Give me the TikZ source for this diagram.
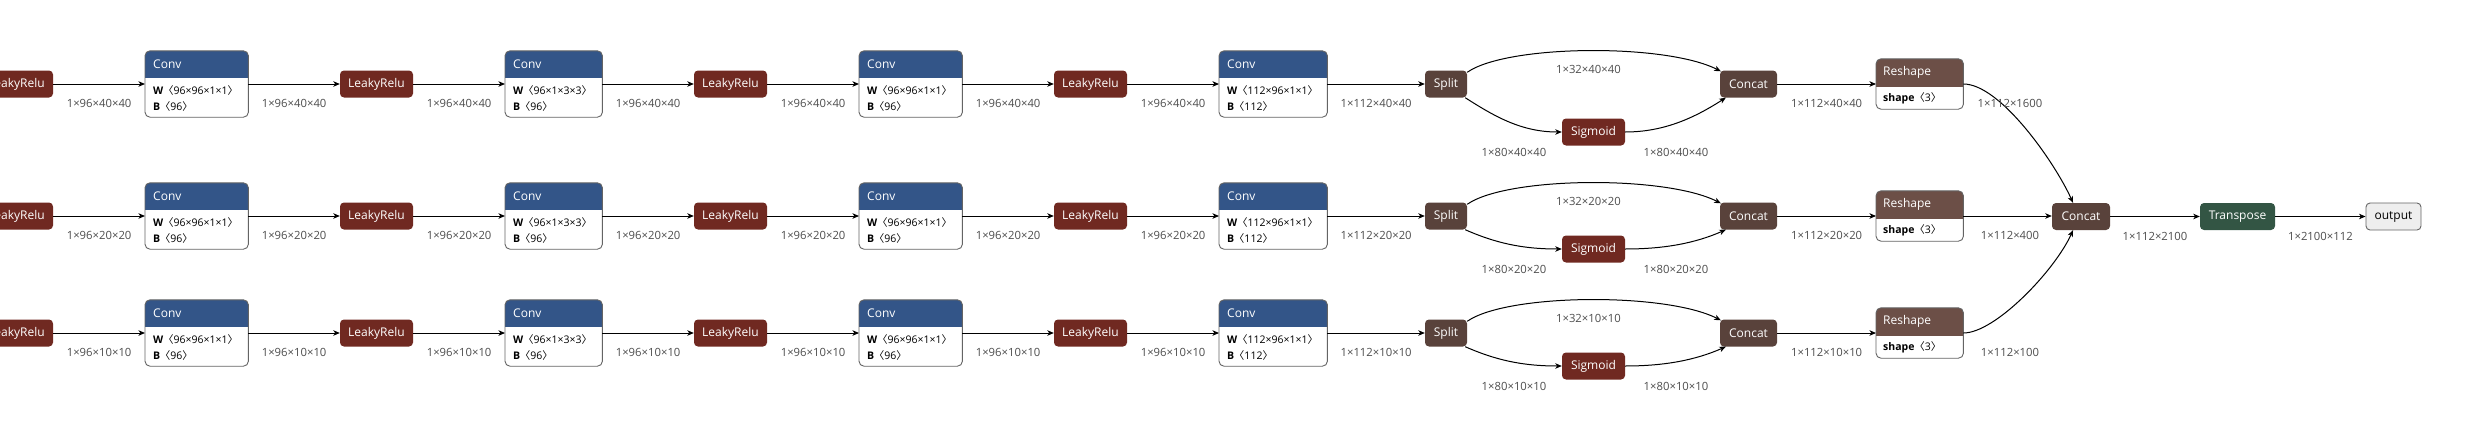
\documentclass[tikz,border=0pt]{standalone}
\usepackage{fontspec}
\setmainfont{Open Sans}
\newfontfamily\cjkf{Noto Sans CJK SC}
\usetikzlibrary{arrows.meta,calc}
\definecolor{convblue}{RGB}{51,85,136}
\definecolor{actred}{RGB}{112,41,33}
\definecolor{tensbrown}{RGB}{89,66,59}
\definecolor{shapebrown}{RGB}{108,79,71}
\definecolor{transgreen}{RGB}{51,85,68}
\definecolor{labgray}{RGB}{77,77,77}
\definecolor{framegray}{RGB}{100,100,100}
\definecolor{outfill}{RGB}{238,238,238}
\newcommand\nfont{\fontsize{12}{14}\selectfont}
\newcommand\afont{\fontsize{10.5}{12}\selectfont}
\newcommand\lbra{\hspace{-3pt}{\cjkf 〈}}
\newcommand\rbra{{\cjkf 〉}}
\tikzset{
  op/.style={rounded corners=4pt, minimum height=27pt, inner sep=0pt, text=white, font=\nfont},
  act/.style={op, fill=actred},
  tens/.style={op, fill=tensbrown},
  frame/.style={draw=framegray, line width=0.9pt, rounded corners=5pt},
  blockbox/.style={fill=white, rounded corners=5pt, inner sep=0pt},
  hdrtext/.style={text=white, font=\nfont, inner sep=0pt},
  attr/.style={text=black, font=\afont, inner sep=0pt},
  edge/.style={-{Stealth[length=6.5pt,width=5.5pt,inset=1.8pt]}, line width=1pt, black},
  elab/.style={font=\fontsize{11.3}{13}\selectfont, text=labgray, inner sep=0pt},
}
% name, x-left, y-center, width, W, B
\newcommand\convblk[6]{%
  \node[blockbox, minimum width=#4pt, minimum height=66pt, anchor=west] (#1) at (#2,#3) {};
  \fill[convblue] ($(#1.north west)+(0,27)$) [rounded corners=5pt] -- (#1.north west) -- (#1.north east) [sharp corners] -- ($(#1.north east)+(0,27)$) -- cycle;
  \draw[frame] (#1.north west) rectangle (#1.south east);
  \node[hdrtext, anchor=west] (#1-t) at ($(#1.north west)+(8,13.5)$) {Conv};
  \node[attr, anchor=west] (#1-w) at ($(#1.west)+(8,7)$) {\textbf{W} \lbra#5\rbra};
  \node[attr, anchor=west] (#1-b) at ($(#1.west)+(8,23)$) {\textbf{B} \lbra#6\rbra};
}
% name, x-left, y-center, width
\newcommand\reshblk[4]{%
  \node[blockbox, minimum width=#4pt, minimum height=50pt, anchor=west] (#1) at (#2,#3) {};
  \fill[shapebrown] ($(#1.north west)+(0,28)$) [rounded corners=5pt] -- (#1.north west) -- (#1.north east) [sharp corners] -- ($(#1.north east)+(0,28)$) -- cycle;
  \draw[frame] (#1.north west) rectangle (#1.south east);
  \node[hdrtext, anchor=west] (#1-t) at ($(#1.north west)+(7,14)$) {Reshape};
  \node[attr, anchor=west] (#1-s) at ($(#1.north west)+(7,40)$) {\textbf{shape} \lbra3\rbra};
}
\begin{document}
\begin{tikzpicture}[x=1pt,y=-1pt]
\useasboundingbox (0,0) rectangle (2477,423);
% final part
\node[tens, minimum width=58pt] (fc) at (2081,216.5) {Concat};
\node[op, fill=transgreen, minimum width=75pt] (tr) at (2237.5,216.5) {Transpose};
\node[op, fill=outfill, draw=framegray, line width=0.9pt, text=black, minimum width=55pt] (out) at (2393.5,216.5) {output};
\draw[edge] (fc) -- (tr) node[elab, midway, yshift=-19.5pt] (lft) {1×112×2100};
\draw[edge] (tr) -- (out) node[elab, midway, yshift=-19.5pt] (lto) {1×2100×112};

\foreach \r/\y/\s/\h in {1/84/48/40, 2/216/33/20, 3/333/33/10} {
  \node[act, minimum width=73pt] (lr0\r) at (16.5,\y) {LeakyRelu};
  \convblk{cva\r}{145}{\y}{103}{96×96×1×1}{96}
  \node[act, minimum width=73pt] (lra\r) at (376.5,\y) {LeakyRelu};
  \convblk{cvb\r}{505}{\y}{97}{96×1×3×3}{96}
  \node[act, minimum width=73pt] (lrb\r) at (730.5,\y) {LeakyRelu};
  \convblk{cvc\r}{859}{\y}{103}{96×96×1×1}{96}
  \node[act, minimum width=73pt] (lrc\r) at (1090.5,\y) {LeakyRelu};
  \convblk{cvd\r}{1219}{\y}{108}{112×96×1×1}{112}
  \node[tens, minimum width=42pt] (sp\r) at (1446,\y) {Split};
  \node[act, minimum width=63pt] (sg\r) at (1593.5,\y+\s) {Sigmoid};
  \node[tens, minimum width=57pt] (cc\r) at (1748.5,\y) {Concat};
  \reshblk{rs\r}{1876}{\y}{87}
  \draw[edge] (lr0\r) -- (cva\r) node[elab, midway, yshift=-19pt] (la\r) {1×96×\h×\h};
  \draw[edge] (cva\r) -- (lra\r) node[elab, midway, yshift=-19pt] (lb\r) {1×96×\h×\h};
  \draw[edge] (lra\r) -- (cvb\r) node[elab, midway, yshift=-19pt] (lc\r) {1×96×\h×\h};
  \draw[edge] (cvb\r) -- (lrb\r) node[elab, midway, yshift=-19pt] (ld\r) {1×96×\h×\h};
  \draw[edge] (lrb\r) -- (cvc\r) node[elab, midway, yshift=-19pt] (le\r) {1×96×\h×\h};
  \draw[edge] (cvc\r) -- (lrc\r) node[elab, midway, yshift=-19pt] (lf\r) {1×96×\h×\h};
  \draw[edge] (lrc\r) -- (cvd\r) node[elab, midway, yshift=-19pt] (lg\r) {1×96×\h×\h};
  \draw[edge] (cvd\r) -- (sp\r) node[elab, midway, yshift=-19pt] (lh\r) {1×112×\h×\h};
  \draw[edge] ($(sp\r.north east)+(0,2)$) .. controls +(40,-28) and +(-55,-28) .. ($(cc\r.north west)+(1,1)$) node[elab, midway, yshift=-19pt] (li\r) {1×32×\h×\h};
  \draw[edge] ($(sp\r.south east)+(-2,0)$) .. controls +(30,{0.4*\s}) and +(-40,0) .. (sg\r.west);
  \draw[edge] (sg\r.east) .. controls +(40,0) and +(-30,{0.4*\s}) .. ($(cc\r.south west)+(6,0)$);
  \node[elab] (lj\r) at (1514,\y+\s+20) {1×80×\h×\h};
  \node[elab] (lk\r) at (1676,\y+\s+20) {1×80×\h×\h};
  \draw[edge] (cc\r) -- (rs\r) node[elab, midway, yshift=-19pt] (ll\r) {1×112×\h×\h};
}
\draw[edge] (rs1.east) .. controls +(37,0) and +(-18,-40) .. ($(fc.north)+(-8,0)$);
\node[elab] (lm1) at (2010,103) {1×112×1600};
\draw[edge] (rs2.east) -- (rs2.east -| fc.west);
\node[elab] (lm2) at (2010,235.5) {1×112×400};
\draw[edge] (rs3.east) .. controls +(32,0) and +(-18,40) .. ($(fc.south)+(-8,0)$);
\node[elab] (lm3) at (2010,352) {1×112×100};
\end{tikzpicture}
\end{document}
